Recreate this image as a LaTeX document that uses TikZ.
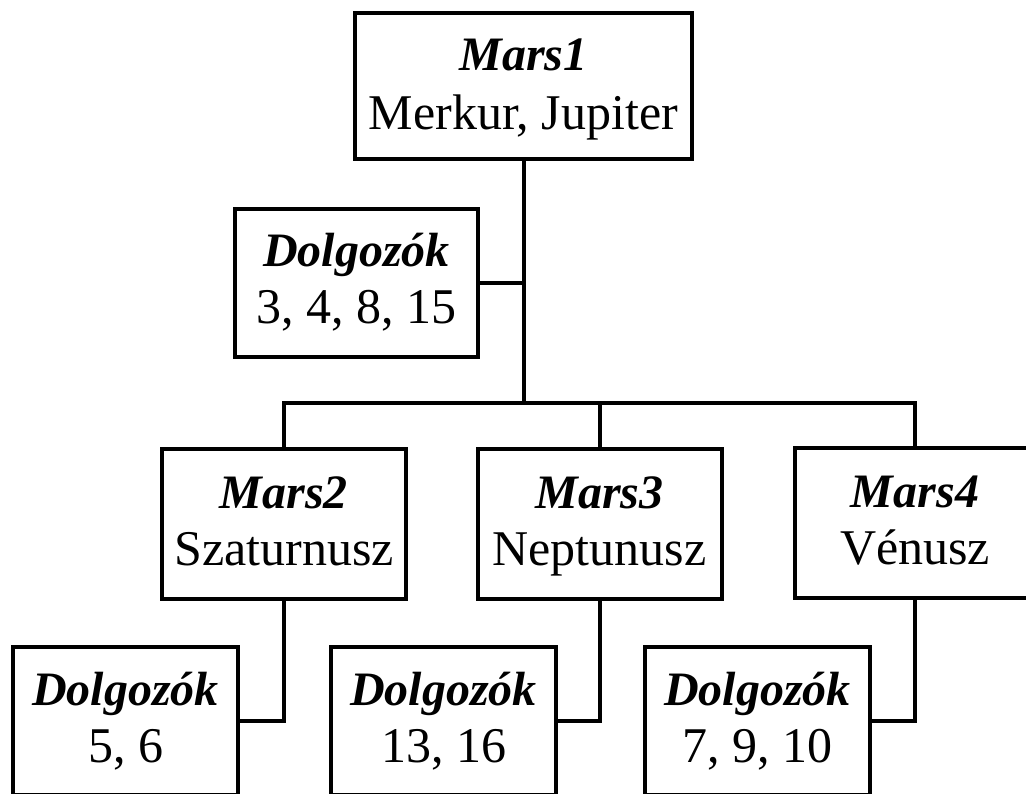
\documentclass[tikz,border=0pt]{standalone}
\usepackage{fontspec}
\setmainfont{Liberation Serif}
\usetikzlibrary{calc}
\begin{document}
\begin{tikzpicture}[x=1pt,y=-1pt,
  box/.style={draw=black, line width=4pt, rectangle, inner sep=0pt},
  mbox/.style={box, minimum width=244pt, minimum height=150pt},
  dbox/.style={box, minimum width=225pt, minimum height=148pt},
  conn/.style={draw=black, line width=4pt},
  bi/.style={inner sep=0pt, anchor=base, font=\fontsize{48}{57}\selectfont\bfseries\itshape},
  rm/.style={inner sep=0pt, anchor=base, font=\fontsize{50}{57}\selectfont}]
\useasboundingbox (0,0) rectangle (1026,793);
\clip (0,0) rectangle (1026,793);
% boxes
\node[box, minimum width=337pt, minimum height=146pt] (m1) at (523.5,86) {};
\node[box, minimum width=243pt, minimum height=148pt] (d1) at (356.5,283) {};
\node[mbox] (m2) at (284,524) {};
\node[mbox] (m3) at (599.5,524) {};
\node[mbox, minimum width=240pt] (m4) at (915,523) {};
\node[dbox] (d2) at (125.5,721) {};
\node[dbox] (d3) at (443.5,721) {};
\node[dbox] (d4) at (757.5,721) {};
% texts
\node[bi] (m1a) at ($(m1.north)+(0,59)$) {Mars1};
\node[rm] (m1b) at ($(m1.north)+(0,118)$) {Merkur, Jupiter};
\node[bi] (d1a) at ($(d1.north)+(0,59)$) {Dolgozók};
\node[rm] (d1b) at ($(d1.north)+(0,116)$) {3, 4, 8, 15};
\node[bi] (m2a) at ($(m2.north)+(0,61)$) {Mars2};
\node[rm] (m2b) at ($(m2.north)+(0,118)$) {Szaturnusz};
\node[bi] (m3a) at ($(m3.north)+(0,61)$) {Mars3};
\node[rm] (m3b) at ($(m3.north)+(0,118)$) {Neptunusz};
\node[bi] (m4a) at ($(m4.north)+(0,61)$) {Mars4};
\node[rm] (m4b) at ($(m4.north)+(0,118)$) {Vénusz};
\node[bi] (d2a) at ($(d2.north)+(0,60)$) {Dolgozók};
\node[rm] (d2b) at ($(d2.north)+(0,117)$) {5, 6};
\node[bi] (d3a) at ($(d3.north)+(0,60)$) {Dolgozók};
\node[rm] (d3b) at ($(d3.north)+(0,117)$) {13, 16};
\node[bi] (d4a) at ($(d4.north)+(0,60)$) {Dolgozók};
\node[rm] (d4b) at ($(d4.north)+(0,117)$) {7, 9, 10};
% connectors
\coordinate (busL) at (284,403);
\coordinate (busR) at (915,403);
\draw[conn] (m1.south) -- (m1.south |- busL);
\draw[conn] (d1.east) -- (d1.east -| m1.south);
\draw[conn, line cap=rect] (busL) -- (busR);
\draw[conn] (m2.north) -- (m2.north |- busL);
\draw[conn] (m3.north) -- (m3.north |- busL);
\draw[conn] (m4.north) -- (m4.north |- busR);
\draw[conn, line join=miter] (m2.south) |- (d2.east);
\draw[conn, line join=miter] (m3.south) |- (d3.east);
\draw[conn, line join=miter] (m4.south) |- (d4.east);
\end{tikzpicture}
\end{document}
